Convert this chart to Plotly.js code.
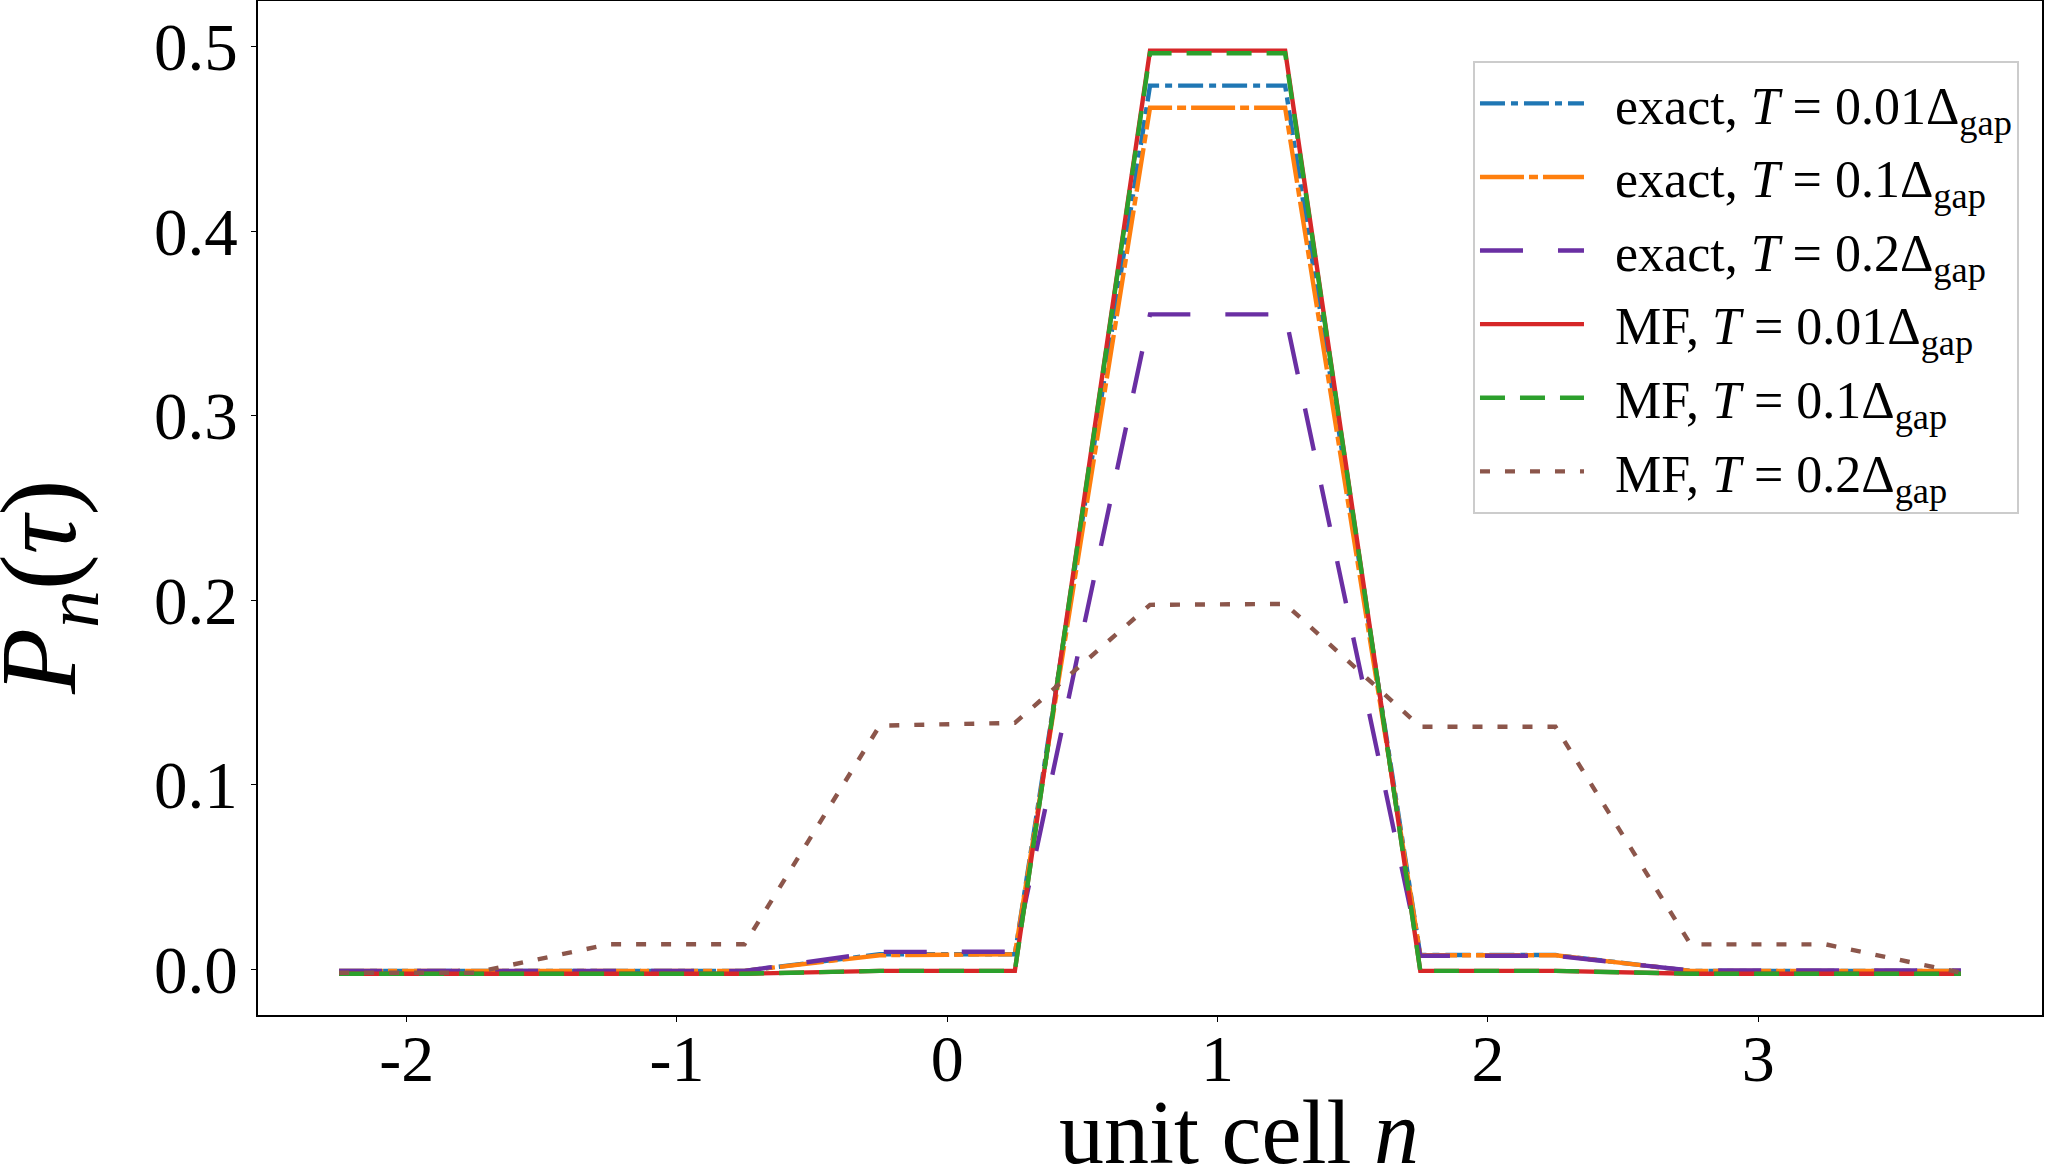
<!DOCTYPE html>
<html>
<head>
<meta charset="utf-8">
<script src="https://cdn.plot.ly/plotly-3.0.1.min.js"></script>
<style>
  html, body { margin: 0; padding: 0; background: #ffffff; }
  #chart { width: 2045px; height: 1164px; }
</style>
</head>
<body>
<div id="chart"></div>
<script>
// ---- data ----
const unitCell = [-2.25, -1.75, -1.25, -0.75, -0.25, 0.25, 0.75, 1.25, 1.75, 2.25, 2.75, 3.25, 3.75];

const exactT001 = [-0.001, -0.001, -0.001, -0.001, 0.008, 0.008, 0.479, 0.479, 0.0076, 0.0076, -0.001, -0.001, -0.001];
const exactT01  = [-0.001, -0.001, -0.001, -0.001, 0.0075, 0.008, 0.467, 0.467, 0.0075, 0.0075, -0.001, -0.001, -0.001];
const exactT02  = [-0.001, -0.001, -0.001, -0.001, 0.0093, 0.0094, 0.355, 0.355, 0.0072, 0.0072, -0.0008, -0.0008, -0.0008];
const mfT001    = [-0.0025, -0.0025, -0.0025, -0.0025, -0.001, -0.001, 0.498, 0.498, -0.001, -0.001, -0.0025, -0.0025, -0.0025];
const mfT01     = [-0.0025, -0.0025, -0.0025, -0.0025, -0.001, -0.001, 0.4966, 0.4966, -0.001, -0.001, -0.0025, -0.0025, -0.0025];
const mfT02     = [-0.002, -0.002, 0.0135, 0.0135, 0.132, 0.1335, 0.1975, 0.198, 0.1314, 0.1314, 0.0134, 0.0134, -0.002];

const seriesNames = [
  'exact, <i>T</i> = 0.01Δ<sub>gap</sub>',
  'exact, <i>T</i> = 0.1Δ<sub>gap</sub>',
  'exact, <i>T</i> = 0.2Δ<sub>gap</sub>',
  'MF, <i>T</i> = 0.01Δ<sub>gap</sub>',
  'MF, <i>T</i> = 0.1Δ<sub>gap</sub>',
  'MF, <i>T</i> = 0.2Δ<sub>gap</sub>'
];
const seriesValues = [exactT001, exactT01, exactT02, mfT001, mfT01, mfT02];

const xTickVals = [-2, -1, 0, 1, 2, 3];
const xTickText = ['-2', '-1', '0', '1', '2', '3'];
const yTickVals = [0.0, 0.1, 0.2, 0.3, 0.4, 0.5];
const yTickText = ['0.0', '0.1', '0.2', '0.3', '0.4', '0.5'];

const xTitle = 'unit cell <i>n</i>';
const yTitle = '<i>P</i><sub><i>n</i></sub>(<i>τ</i>)';

// ---- styles ----
const colors = ['#1f77b4', '#ff7f0e', '#6a2fa3', '#d62728', '#2ca02c', '#8c564b'];
const dashes = ['25px,6px,7px,6px', '44px,5px,9px,5px', '43px,35px', 'solid', '25px,15px', '10px,15px'];
const FONT = '"Liberation Serif", "Times New Roman", serif';
const LEAD = '\u00a0\u00a0';

const traces = seriesValues.map((vals, i) => ({
  type: 'scatter',
  mode: 'lines',
  x: unitCell,
  y: vals,
  name: LEAD + seriesNames[i],
  legendgroup: 'g' + i,
  line: { color: colors[i], width: 4.4, dash: dashes[i] },
  hoverinfo: 'x+y'
}));

const layout = {
  width: 2045,
  height: 1164,
  margin: { l: 258, r: 3, t: 1, b: 149, pad: 0 },
  paper_bgcolor: '#ffffff',
  plot_bgcolor: '#ffffff',
  font: { family: FONT, color: '#000000', size: 50 },
  showlegend: true,
  legend: {
    x: 0.9871, y: 0.9408, xanchor: 'right', yanchor: 'top',
    bgcolor: 'rgba(255,255,255,0.8)',
    bordercolor: '#cccccc', borderwidth: 2,
    font: { family: FONT, size: 52, color: '#000000' },
    itemwidth: 104,
    traceorder: 'grouped',
    tracegroupgap: 3
  },
  xaxis: {
    range: [-2.55, 4.05],
    tickmode: 'array', tickvals: xTickVals, ticktext: xTickText,
    ticks: 'outside', ticklen: 5, tickwidth: 1.2, tickcolor: '#000000',
    ticklabelstandoff: -20,
    tickfont: { family: FONT, size: 66, color: '#000000' },
    showline: true, mirror: true, linecolor: '#000000', linewidth: 1.6,
    showgrid: false, zeroline: false
  },
  yaxis: {
    range: [-0.0249, 0.5249],
    tickmode: 'array', tickvals: yTickVals, ticktext: yTickText,
    ticks: 'outside', ticklen: 5, tickwidth: 1.2, tickcolor: '#000000',
    tickfont: { family: FONT, size: 67, color: '#000000' },
    showline: true, mirror: true, linecolor: '#000000', linewidth: 1.6,
    showgrid: false, zeroline: false
  },
  annotations: [
    {
      text: xTitle, xref: 'paper', yref: 'paper',
      x: 0.5499, y: -0.116, xanchor: 'center', yanchor: 'middle',
      showarrow: false, font: { family: FONT, size: 90, color: '#000000' }
    },
    {
      text: yTitle, xref: 'paper', yref: 'paper',
      x: -0.1183, y: 0.4221, xanchor: 'center', yanchor: 'middle',
      textangle: -90,
      showarrow: false, font: { family: FONT, size: 108, color: '#000000' }
    }
  ]
};

Plotly.newPlot('chart', traces, layout, { displayModeBar: false });
</script>
</body>
</html>
